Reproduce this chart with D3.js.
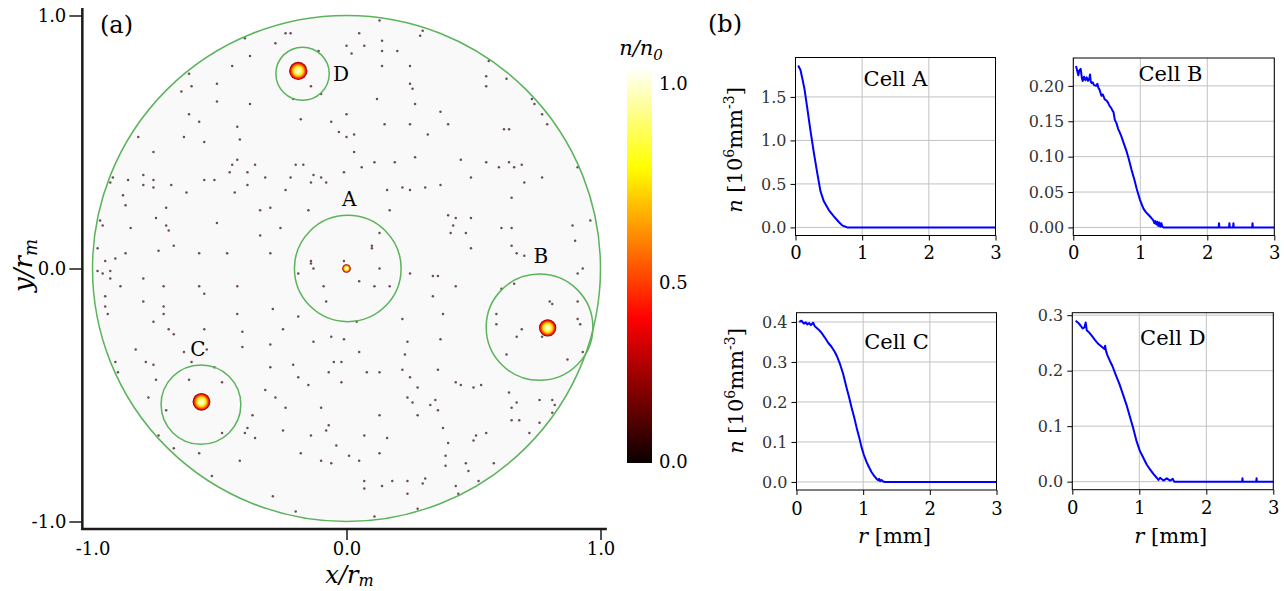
<!DOCTYPE html>
<html>
<head>
<meta charset="utf-8">
<script src="https://cdn.jsdelivr.net/npm/d3@7"></script>
<style>
  html, body { margin: 0; padding: 0; background: #fff; }
  svg { display: block; }
  text { font-family: "DejaVu Serif", serif; }
</style>
</head>
<body>
<svg id="fig" width="1284" height="591"></svg>
<script>
// ---------------- data ----------------

// Panel (a): scattered low-density specks inside the disk, in units of r_m
const specks = [
  [0.13,0.98],[-0.40,0.91],[-0.24,0.93],[-0.22,0.93],[0.05,0.93],[0.30,0.94],[0.29,0.92],[-0.28,0.89],
  [0.00,0.88],[0.07,0.88],[0.14,0.90],[0.20,0.86],[0.14,0.86],[0.02,0.85],[-0.38,0.84],[0.56,0.82],
  [-0.11,0.86],[-0.45,0.80],[-0.62,0.77],[0.14,0.80],[0.25,0.80],[0.55,0.76],[0.55,0.72],[0.63,0.75],
  [0.25,0.73],[0.26,0.71],[-0.51,0.73],[-0.65,0.70],[-0.61,0.72],[0.73,0.67],[0.74,0.65],[-0.14,0.72],
  [-0.10,0.69],[-0.21,0.67],[0.12,0.67],[0.27,0.65],[-0.51,0.66],[-0.38,0.65],[0.77,0.61],[0.37,0.62],
  [-0.62,0.61],[-0.18,0.59],[0.00,0.61],[-0.06,0.58],[0.15,0.57],[0.25,0.57],[0.40,0.57],[-0.58,0.58],
  [-0.43,0.56],[0.62,0.55],[0.64,0.55],[0.79,0.57],[-0.03,0.54],[0.00,0.52],[0.03,0.53],[0.32,0.53],
  [-0.64,0.52],[-0.56,0.50],[-0.42,0.51],[-0.82,0.52],[-0.76,0.46],[0.03,0.46],[-0.43,0.43],[0.27,0.44],
  [0.45,0.43],[0.55,0.42],[0.64,0.42],[0.91,0.40],[-0.45,0.41],[-0.36,0.41],[-0.20,0.41],[-0.17,0.41],
  [0.11,0.42],[0.19,0.42],[0.06,0.40],[0.60,0.40],[0.66,0.40],[0.69,0.41],[-0.92,0.36],[-0.93,0.34],
  [-0.80,0.37],[-0.46,0.38],[-0.39,0.38],[-0.32,0.36],[-0.22,0.36],[-0.13,0.37],[-0.10,0.36],[-0.08,0.34],
  [-0.01,0.38],[0.49,0.36],[0.70,0.34],[0.77,0.36],[-0.86,0.35],[-0.80,0.33],[-0.76,0.35],[-0.76,0.32],
  [-0.56,0.35],[-0.52,0.35],[-0.69,0.33],[-0.63,0.30],[-0.44,0.30],[-0.39,0.33],[-0.24,0.31],[-0.14,0.34],
  [0.16,0.31],[0.22,0.32],[0.25,0.31],[0.31,0.32],[0.37,0.33],[0.65,0.28],[-0.88,0.29],[-0.87,0.25],
  [-0.71,0.24],[-0.75,0.20],[-0.34,0.23],[-0.30,0.24],[-0.15,0.23],[0.17,0.23],[0.40,0.21],[0.43,0.20],
  [0.49,0.20],[0.61,0.16],[0.65,0.16],[0.89,0.17],[0.96,0.19],[-0.97,0.19],[-0.96,0.17],[-0.85,0.16],
  [-0.71,0.17],[-0.70,0.15],[-0.51,0.18],[-0.26,0.16],[-0.34,0.13],[-0.68,0.09],[-0.58,0.06],[-0.47,0.06],
  [-0.30,0.06],[0.42,0.17],[0.41,0.14],[0.47,0.14],[0.49,0.08],[0.65,0.09],[0.67,0.06],[0.70,0.05],
  [0.90,0.11],[0.13,0.14],[0.10,0.09],[0.10,0.08],[-0.98,0.08],[-0.91,0.04],[-0.87,0.06],[-0.74,0.07],
  [-0.95,0.03],[-0.14,0.03],[-0.14,0.02],[-0.01,0.03],[0.13,0.00],[0.25,-0.02],[0.34,-0.03],[0.36,-0.03],
  [-0.19,-0.02],[-0.13,0.00],[0.91,-0.02],[0.93,0.00],[-0.98,-0.01],[-0.96,-0.02],[-0.93,-0.01],[-0.93,-0.04],
  [-0.89,-0.07],[-0.80,-0.04],[-0.72,-0.07],[-0.58,-0.07],[-0.43,-0.07],[-0.09,-0.07],[0.05,-0.05],[0.11,-0.07],
  [0.17,-0.07],[0.34,-0.11],[0.43,-0.07],[0.61,-0.08],[0.66,-0.06],[-0.95,-0.11],[-0.56,-0.10],
  [-0.95,-0.15],[-0.94,-0.18],[-0.80,-0.13],[-0.72,-0.15],[-0.72,-0.18],[-0.43,-0.18],[-0.29,-0.16],[-0.19,-0.19],
  [-0.08,-0.13],[0.04,-0.21],[0.22,-0.20],[0.38,-0.18],[0.59,-0.18],[0.59,-0.22],[0.80,-0.13],[0.81,-0.14],
  [0.91,-0.13],[0.91,-0.20],[0.92,-0.22],[0.69,-0.24],[0.67,-0.27],[0.77,-0.27],[-0.76,-0.21],[-0.70,-0.24],
  [-0.68,-0.26],[-0.56,-0.24],[-0.41,-0.25],[-0.30,-0.30],[-0.25,-0.24],[-0.13,-0.29],[-0.06,-0.27],[-0.01,-0.28],
  [0.24,-0.29],[0.37,-0.28],[0.05,-0.33],[0.23,-0.34],[-0.83,-0.32],[-0.41,-0.31],[-0.64,-0.33],[-0.91,-0.37],
  [-0.90,-0.41],[-0.79,-0.37],[-0.76,-0.38],[-0.61,-0.37],[-0.55,-0.32],[-0.52,-0.39],[-0.49,-0.45],[-0.75,-0.44],
  [-0.62,-0.44],[-0.30,-0.39],[-0.21,-0.38],[-0.19,-0.43],[-0.15,-0.46],[-0.07,-0.41],[-0.05,-0.37],[-0.02,-0.37],
  [-0.02,-0.45],[0.08,-0.41],[0.13,-0.41],[0.22,-0.40],[0.25,-0.43],[0.36,-0.40],[0.28,-0.47],[0.43,-0.45],
  [0.45,-0.46],[0.50,-0.47],[0.53,-0.46],[0.63,-0.34],[0.87,-0.36],[0.93,-0.33],[0.64,-0.49],[0.67,-0.53],
  [0.65,-0.55],[0.76,-0.52],[0.81,-0.52],[0.82,-0.54],[-0.32,-0.48],[-0.28,-0.51],[-0.24,-0.55],[-0.10,-0.55],
  [0.24,-0.51],[0.26,-0.53],[0.28,-0.58],[0.33,-0.54],[0.35,-0.52],[0.36,-0.56],[0.13,-0.58],[-0.78,-0.51],
  [-0.71,-0.56],[-0.37,-0.58],[-0.39,-0.63],[-0.40,-0.65],[-0.36,-0.67],[-0.49,-0.65],[-0.74,-0.66],[-0.68,-0.71],
  [-0.58,-0.73],[-0.42,-0.76],[-0.25,-0.64],[-0.14,-0.66],[-0.08,-0.64],[-0.07,-0.62],[0.07,-0.66],[0.16,-0.67],
  [-0.04,-0.70],[0.38,-0.63],[0.40,-0.69],[0.51,-0.66],[0.55,-0.65],[0.50,-0.68],[0.72,-0.65],[0.76,-0.61],
  [0.81,-0.57],[0.65,-0.60],[0.68,-0.60],[-0.18,-0.73],[-0.10,-0.76],[-0.06,-0.77],[0.01,-0.74],[0.05,-0.76],
  [0.13,-0.73],[0.39,-0.74],[0.39,-0.78],[0.47,-0.77],[0.48,-0.80],[0.58,-0.77],[0.07,-0.84],[0.07,-0.87],
  [0.14,-0.86],[0.18,-0.84],[0.24,-0.84],[0.24,-0.89],[0.31,-0.83],[0.30,-0.85],[0.43,-0.86],[0.52,-0.84],
  [0.44,-0.89],[-0.29,-0.90],[-0.20,-0.96],[0.28,-0.95],[0.11,-0.98],[-0.53,-0.82]
];

// Panel (a): cells, their selection circles and dense cores (units of r_m)
const cellNames = ["A", "B", "C", "D"];
const cellX = [0.005, 0.760, -0.573, -0.173];
const cellY = [0.000, -0.232, -0.538, 0.770];
const cellR = [0.210, 0.210, 0.157, 0.105];
const coreX = [0.000, 0.792, -0.571, -0.190];
const coreY = [0.000, -0.235, -0.527, 0.781];
const coreR = [0.017, 0.034, 0.035, 0.036];
const labelX = [0.011, 0.765, -0.585, -0.022];
const labelY = [0.273, 0.049, -0.320, 0.768];

const axisTicksA = [-1, 0, 1];
const colorbarTicks = [0.0, 0.5, 1.0];

// Panel (b): radial density profiles, [r in mm, n in 10^6 mm^-3]
const profileA = [
  [0.04,1.86],[0.075,1.81],[0.10,1.72],[0.135,1.59],[0.175,1.38],[0.225,1.11],[0.275,0.86],
  [0.325,0.63],[0.375,0.415],[0.425,0.30],[0.50,0.20],[0.575,0.127],[0.65,0.062],[0.70,0.023],
  [0.775,0.0],[3.0,0.0]
];
const profileB = [
  [0.04,0.228],[0.06,0.221],[0.075,0.215],[0.09,0.222],[0.11,0.224],[0.13,0.210],[0.14,0.207],
  [0.16,0.213],[0.18,0.208],[0.20,0.212],[0.22,0.207],[0.24,0.211],[0.25,0.216],[0.26,0.206],
  [0.275,0.204],[0.29,0.205],[0.31,0.201],[0.34,0.200],[0.36,0.203],[0.375,0.197],[0.39,0.195],
  [0.42,0.186],[0.44,0.188],[0.47,0.181],[0.50,0.179],[0.52,0.176],[0.545,0.171],[0.565,0.169],
  [0.585,0.165],[0.60,0.163],[0.62,0.152],[0.645,0.147],[0.67,0.139],[0.695,0.134],[0.72,0.128],
  [0.76,0.117],[0.797,0.107],[0.83,0.096],[0.87,0.081],[0.91,0.068],[0.945,0.055],[0.97,0.047],
  [0.995,0.039],[1.02,0.033],[1.045,0.027],[1.08,0.022],[1.12,0.018],[1.16,0.014],[1.195,0.010],
  [1.21,0.006],[1.225,0.009],[1.24,0.004],[1.255,0.008],[1.27,0.002],[1.285,0.007],[1.30,0.001],
  [1.315,0.006],[1.33,0.001],[1.345,0.0],[2.17,0.0],[2.175,0.006],[2.18,0.0],[2.325,0.0],
  [2.33,0.006],[2.335,0.0],[2.385,0.0],[2.39,0.006],[2.395,0.0],[2.67,0.0],[2.675,0.006],
  [2.68,0.0],[3.0,0.0]
];
const profileC = [
  [0.04,0.400],[0.075,0.403],[0.11,0.396],[0.14,0.399],[0.16,0.394],[0.19,0.397],[0.215,0.392],
  [0.25,0.398],[0.275,0.389],[0.325,0.382],[0.375,0.373],[0.425,0.361],[0.475,0.348],[0.525,0.338],
  [0.575,0.325],[0.61,0.313],[0.65,0.296],[0.70,0.270],[0.75,0.236],[0.79,0.211],[0.825,0.187],
  [0.865,0.162],[0.90,0.137],[0.94,0.112],[0.975,0.087],[1.01,0.068],[1.05,0.050],[1.09,0.036],
  [1.125,0.025],[1.165,0.015],[1.20,0.008],[1.225,0.004],[1.24,0.008],[1.255,0.002],[1.275,0.005],
  [1.30,0.001],[1.325,0.0],[3.0,0.0]
];
const profileD = [
  [0.05,0.290],[0.09,0.286],[0.125,0.281],[0.155,0.276],[0.18,0.278],[0.20,0.287],[0.215,0.273],
  [0.25,0.269],[0.29,0.263],[0.34,0.255],[0.39,0.248],[0.44,0.243],[0.48,0.239],[0.49,0.245],
  [0.50,0.237],[0.52,0.229],[0.56,0.218],[0.60,0.208],[0.65,0.192],[0.70,0.177],[0.76,0.156],
  [0.81,0.138],[0.86,0.117],[0.91,0.096],[0.96,0.0725],[1.01,0.055],[1.06,0.043],[1.11,0.031],
  [1.16,0.022],[1.21,0.014],[1.26,0.007],[1.285,0.003],[1.31,0.007],[1.36,0.002],[1.41,0.006],
  [1.46,0.002],[1.50,0.005],[1.52,0.0],[2.535,0.0],[2.54,0.006],[2.545,0.0],[2.745,0.0],
  [2.75,0.006],[2.755,0.0],[3.0,0.0]
];
const rTicks = [0, 1, 2, 3];
const nTicksA = [0.0, 0.5, 1.0, 1.5];
const nTicksB = [0.00, 0.05, 0.10, 0.15, 0.20];
const nTicksC = [0.0, 0.1, 0.2, 0.3, 0.4];
const nTicksD = [0.0, 0.1, 0.2, 0.3];

// ---------------- helpers ----------------

// matplotlib "hot" colormap
function hot(t) {
  const c = v => Math.max(0, Math.min(1, v));
  const r = c(0.0416 + (1 - 0.0416) * t / 0.365079);
  const g = c((t - 0.365079) / (0.746032 - 0.365079));
  const b = c((t - 0.746032) / (1 - 0.746032));
  return d3.rgb(r * 255, g * 255, b * 255).formatHex();
}

const svg = d3.select("#fig");
svg.append("rect").attr("width", 1284).attr("height", 591).attr("fill", "#fff");
const defs = svg.append("defs");

// ---------------- panel (a): density map ----------------
const xa = d3.scaleLinear().domain([-1, 1]).range([92.5, 600.5]);
const ya = d3.scaleLinear().domain([-1, 1]).range([521.5, 15.5]);
const xLimA = [-1.04, 1.025], yLimA = [-1.03, 1.03];
const sx = v => xa(v) - xa(0), sy = v => ya(0) - ya(v);

const gMap = svg.append("g");

gMap.append("ellipse")
  .attr("cx", xa(0)).attr("cy", ya(0)).attr("rx", sx(1)).attr("ry", sy(1))
  .attr("fill", "#f9f9f9");

gMap.selectAll("circle.speck").data(specks).join("circle")
  .attr("class", "speck")
  .attr("cx", d => xa(d[0])).attr("cy", d => ya(d[1]))
  .attr("r", 1.25).attr("fill", "#5b3a41").attr("opacity", 0.9);

gMap.append("ellipse")
  .attr("cx", xa(0)).attr("cy", ya(0)).attr("rx", sx(1)).attr("ry", sy(1))
  .attr("fill", "none").attr("stroke", "#5cb35c").attr("stroke-width", 1.5);

const coreGrad = defs.append("radialGradient").attr("id", "core");
coreGrad.selectAll("stop")
  .data([[0, 0.99], [0.3, 0.88], [0.55, 0.68], [0.75, 0.47], [0.9, 0.3], [1, 0.12]])
  .join("stop")
  .attr("offset", d => d[0]).attr("stop-color", d => hot(d[1]));

const cellIdx = d3.range(cellNames.length);

gMap.selectAll("ellipse.cell").data(cellIdx).join("ellipse")
  .attr("class", "cell")
  .attr("cx", i => xa(cellX[i])).attr("cy", i => ya(cellY[i]))
  .attr("rx", i => sx(cellR[i])).attr("ry", i => sy(cellR[i]))
  .attr("fill", "none").attr("stroke", "#5cb35c").attr("stroke-width", 1.5);

gMap.selectAll("ellipse.core").data(cellIdx).join("ellipse")
  .attr("class", "core")
  .attr("cx", i => xa(coreX[i])).attr("cy", i => ya(coreY[i]))
  .attr("rx", i => sx(coreR[i])).attr("ry", i => sy(coreR[i]))
  .attr("fill", "url(#core)");

gMap.selectAll("text.cellname").data(cellIdx).join("text")
  .attr("class", "cellname")
  .attr("x", i => xa(labelX[i])).attr("y", i => ya(labelY[i]))
  .attr("text-anchor", "middle").attr("dominant-baseline", "central")
  .attr("font-size", 20).attr("fill", "#000")
  .text(i => cellNames[i]);

// axes of panel (a)
const fmt1 = d => d.toFixed(1);
const gyA = svg.append("g")
  .attr("transform", `translate(${xa(xLimA[0])},0)`)
  .call(d3.axisLeft(ya).tickValues(axisTicksA).tickSize(13).tickPadding(3).tickFormat(fmt1));
gyA.select(".domain").remove();
gyA.attr("font-family", "DejaVu Serif").attr("font-size", 18);
gyA.selectAll(".tick line").attr("stroke", "#1a1a1a").attr("stroke-width", 1.5);
gyA.selectAll(".tick text").attr("fill", "#000");

const gxA = svg.append("g")
  .attr("transform", `translate(0,${ya(yLimA[0])})`)
  .call(d3.axisBottom(xa).tickValues(axisTicksA).tickSize(11).tickPadding(2).tickFormat(fmt1));
gxA.select(".domain").remove();
gxA.attr("font-family", "DejaVu Serif").attr("font-size", 18);
gxA.selectAll(".tick line").attr("stroke", "#1a1a1a").attr("stroke-width", 1.5)
  .filter(d => d === -1).remove();
gxA.selectAll(".tick text").attr("fill", "#000");

svg.append("line")
  .attr("x1", xa(xLimA[0])).attr("x2", xa(xLimA[0]))
  .attr("y1", ya(yLimA[1])).attr("y2", ya(yLimA[0]) + 1)
  .attr("stroke", "#1a1a1a").attr("stroke-width", 2.5);
svg.append("line")
  .attr("x1", xa(xLimA[0]) - 1).attr("x2", xa(xLimA[1]))
  .attr("y1", ya(yLimA[0])).attr("y2", ya(yLimA[0]))
  .attr("stroke", "#1a1a1a").attr("stroke-width", 2.5);

// axis titles of panel (a)
const yTitleA = svg.append("text")
  .attr("transform", `translate(32,${ya(0) - 3}) rotate(-90)`)
  .attr("text-anchor", "middle").attr("font-size", 26).attr("font-style", "italic");
yTitleA.append("tspan").text("y/r");
yTitleA.append("tspan").attr("dy", 5).attr("font-size", 18).text("m");

const xTitleA = svg.append("text")
  .attr("x", xa(0) + 3).attr("y", 583)
  .attr("text-anchor", "middle").attr("font-size", 24).attr("font-style", "italic");
xTitleA.append("tspan").text("x/r");
xTitleA.append("tspan").attr("dy", 3).attr("font-size", 16).text("m");

svg.append("text").attr("x", 100).attr("y", 33).attr("font-size", 24).text("(a)");
svg.append("text").attr("x", 708).attr("y", 32).attr("font-size", 24).text("(b)");

// ---------------- colorbar ----------------
const cbY = d3.scaleLinear().domain([0, 1]).range([463, 66.5]);
const cbLabelY = d3.scaleLinear().domain([0, 0.5, 1]).range([461, 282, 83]);
const cbGrad = defs.append("linearGradient").attr("id", "cbar")
  .attr("x1", 0).attr("y1", 1).attr("x2", 0).attr("y2", 0);
cbGrad.selectAll("stop").data(d3.range(0, 1.0001, 0.02)).join("stop")
  .attr("offset", d => d).attr("stop-color", d => hot(d));
svg.append("rect")
  .attr("x", 627).attr("width", 25)
  .attr("y", cbY(1)).attr("height", cbY(0) - cbY(1))
  .attr("fill", "url(#cbar)");
svg.selectAll("text.cbtick").data(colorbarTicks).join("text")
  .attr("class", "cbtick")
  .attr("x", 659).attr("y", d => cbLabelY(d))
  .attr("dominant-baseline", "central").attr("font-size", 18)
  .text(d => d.toFixed(1));
const cbTitle = svg.append("text")
  .attr("x", 641).attr("y", 55).attr("text-anchor", "middle")
  .attr("font-size", 21).attr("font-style", "italic");
cbTitle.append("tspan").text("n/n");
cbTitle.append("tspan").attr("dy", 5).attr("font-size", 15).text("0");

// ---------------- panel (b): radial profiles ----------------
const panels = [
  { name: "Cell A", data: profileA, ticks: nTicksA, fmt: ".1f", left: 795.5, top: 57.5, width: 200, height: 178,
    label: [1.5, 1.63], yTitle: 150, xTitle: false, xPad: 6 },
  { name: "Cell B", data: profileB, ticks: nTicksB, fmt: ".2f", left: 1073.3, top: 58, width: 201, height: 177.5,
    label: [1.45, 0.207], yTitle: null, xTitle: false, xPad: 6 },
  { name: "Cell C", data: profileC, ticks: nTicksC, fmt: ".1f", left: 796.5, top: 312.7, width: 200, height: 177.3,
    label: [1.5, 0.333], yTitle: 391, xTitle: true, xPad: 7 },
  { name: "Cell D", data: profileD, ticks: nTicksD, fmt: ".1f", left: 1072.3, top: 312.7, width: 201, height: 177,
    label: [1.5, 0.247], yTitle: null, xTitle: true, xPad: 7 }
];

panels.forEach(p => {
  const x = d3.scaleLinear().domain([0, 3]).range([p.left, p.left + p.width]);
  const ext = d3.extent(p.data, d => d[1]);
  const pad = (ext[1] - ext[0]) * 0.05;
  const y = d3.scaleLinear().domain([ext[0] - pad, ext[1] + pad]).range([p.top + p.height, p.top]);
  const g = svg.append("g");

  g.selectAll("line.gx").data(rTicks).join("line")
    .attr("class", "gx")
    .attr("x1", d => x(d)).attr("x2", d => x(d))
    .attr("y1", p.top).attr("y2", p.top + p.height)
    .attr("stroke", "#c2c2c2").attr("stroke-width", 1);
  g.selectAll("line.gy").data(p.ticks).join("line")
    .attr("class", "gy")
    .attr("x1", p.left).attr("x2", p.left + p.width)
    .attr("y1", d => y(d)).attr("y2", d => y(d))
    .attr("stroke", "#c2c2c2").attr("stroke-width", 1);

  g.append("path").datum(p.data)
    .attr("d", d3.line().x(d => x(d[0])).y(d => y(d[1])))
    .attr("fill", "none").attr("stroke", "#0000ff")
    .attr("stroke-width", 2).attr("stroke-linejoin", "round");

  g.append("rect")
    .attr("x", p.left).attr("y", p.top).attr("width", p.width).attr("height", p.height)
    .attr("fill", "none").attr("stroke", "#000").attr("stroke-width", 1);

  const ax = g.append("g")
    .attr("transform", `translate(0,${p.top + p.height})`)
    .call(d3.axisBottom(x).tickValues(rTicks).tickSize(5).tickPadding(p.xPad).tickFormat(d3.format("d")));
  ax.select(".domain").remove();
  ax.attr("font-family", "DejaVu Serif").attr("font-size", 18);
  ax.selectAll(".tick text").attr("fill", "#000");

  const ay = g.append("g")
    .attr("transform", `translate(${p.left},0)`)
    .call(d3.axisLeft(y).tickValues(p.ticks).tickSize(5).tickPadding(4).tickFormat(d3.format(p.fmt)));
  ay.select(".domain").remove();
  ay.attr("font-family", "DejaVu Sans").attr("font-size", 16);
  ay.selectAll(".tick text").attr("fill", "#333");

  g.append("text")
    .attr("x", x(p.label[0])).attr("y", y(p.label[1]))
    .attr("text-anchor", "middle").attr("font-size", 21)
    .text(p.name);

  if (p.yTitle !== null) {
    const t = g.append("text")
      .attr("transform", `translate(${p.left - 54},${p.yTitle}) rotate(-90)`)
      .attr("text-anchor", "middle").attr("font-size", 21);
    t.append("tspan").attr("font-style", "italic").text("n");
    t.append("tspan").text(" [10");
    t.append("tspan").attr("dy", -8).attr("font-size", 14).text("6");
    t.append("tspan").attr("dy", 8).text("mm");
    t.append("tspan").attr("dy", -8).attr("font-size", 14).text("-3");
    t.append("tspan").attr("dy", 8).text("]");
  }
  if (p.xTitle) {
    const t = g.append("text")
      .attr("x", p.left + p.width / 2 - 2).attr("y", 543)
      .attr("text-anchor", "middle").attr("font-size", 21);
    t.append("tspan").attr("font-style", "italic").text("r");
    t.append("tspan").text(" [mm]");
  }
});
</script>
</body>
</html>
